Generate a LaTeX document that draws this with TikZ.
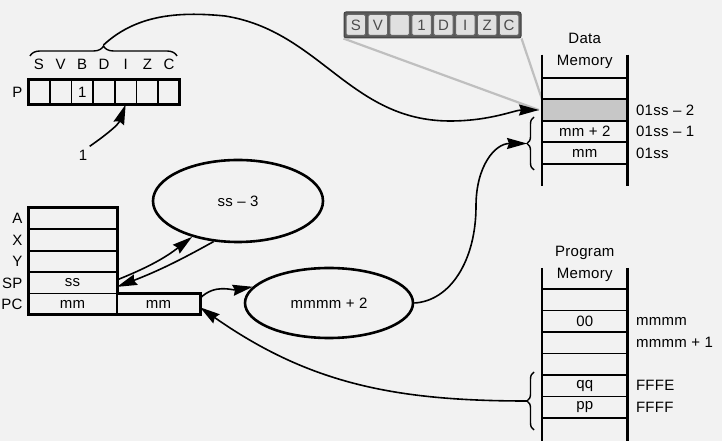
\documentclass[tikz,border=0pt]{standalone}
\usepackage{fontspec}
\setmainfont[LetterSpace=2]{Liberation Sans}
\usetikzlibrary{shapes.geometric, arrows.meta, positioning, calc, decorations.pathreplacing}

\tikzset{
  every node/.style={font=\fontsize{15}{17}\selectfont},
  flagcell/.style={draw, line width=1.8pt, minimum width=21.7pt, minimum height=25pt, inner sep=0pt, outer sep=0pt},
  regcell/.style={draw, line width=1.8pt, minimum width=89pt, minimum height=21.4pt, inner sep=0pt, outer sep=0pt},
  memcell/.style={draw, line width=1.8pt, minimum width=85.5pt, minimum height=21.5pt, inner sep=0pt, outer sep=0pt},
  statcell/.style={draw=black!60, fill=black!12, text=black!70, rounded corners=1.5pt, line width=1pt,
    minimum width=19.5pt, minimum height=21pt, inner sep=0pt},
  rail/.style={line width=2.8pt},
  oval/.style={ellipse, draw, line width=2.6pt, inner sep=0pt},
  ptr/.style={line width=1.6pt, -{Stealth[length=20pt,width=11pt,inset=2pt]}},
  curly/.style={decorate, decoration={brace, amplitude=#1}, line width=1.4pt},
  curly/.default=7pt,
  ghost/.style={line width=2.2pt, black!25},
  header/.style={align=center, font=\fontsize{15}{22}\selectfont},
}

\begin{document}
\begin{tikzpicture}[x=1pt, y=1pt]
  \fill[black!5] (0,0) rectangle (722,441);
  \useasboundingbox (0,0) rectangle (722,441);

  % processor status register
  \foreach \f [count=\i] in {S,V,B,D,I,Z,C} {
    \node[flagcell] (p\i) at ({28+21.7*(\i-0.5)},349) {};
    \node[above=6pt of p\i] (flag\i) {\f};
  }
  \node at (p3) (bset) {1};
  \draw[line width=3pt] (p1.south west) rectangle (p7.north east);
  \node[left=2pt of p1] (preg) {P};
  \draw[curly=10pt] (30,385) -- (177,385);
  \coordinate (fbt) at (103.5,396);

  \node (one) at (83,286) {1};
  \draw[ptr] ([xshift=-1pt]one.north east) to[out=35,in=-110] (p5.south);

  % pushed status byte
  \node[draw=black!75, fill=black!65, rounded corners=2pt, line width=1pt,
    minimum width=177pt, minimum height=26pt] (sbox) at (432.5,416) {};
  \foreach \f [count=\i] in {S,V,{},1,D,I,Z,C}
    \node[statcell] (s\i) at ({345+21.875*(\i-0.5)},416) {\f};

  % data memory (stack page)
  \node[memcell] (d1) at (584.75,352.5) {};
  \node[memcell, fill=black!22, below=0pt of d1] (d2) {};
  \node[memcell, below=0pt of d2] (d3) {mm + 2};
  \node[memcell, below=0pt of d3] (d4) {mm};
  \draw[ghost] (sbox.south west) -- ([xshift=-3pt]d2.west);
  \draw[ghost] (sbox.south east) -- (d2.north west);
  \draw[rail] ([yshift=23pt]d1.north west) -- ([yshift=-22pt]d4.south west);
  \draw[rail] ([yshift=23pt]d1.north east) -- ([yshift=-22pt]d4.south east);
  \node[header] (dhead) at (584.75,390) {Data\\Memory};
  \node[right=5pt of d2] (a2) {01ss – 2};
  \node[right=5pt of d3] (a1) {01ss – 1};
  \node[right=5pt of d4] (a0) {01ss};
  \draw[curly] (534,271) -- (534,324);
  \coordinate (dtip) at (527,297.5);

  % registers
  \node[regcell] (rA) at (72.5,222.3) {};
  \node[regcell, below=0pt of rA] (rX) {};
  \node[regcell, below=0pt of rX] (rY) {};
  \node[regcell, below=0pt of rY] (rSP) {ss};
  \node[regcell, below=0pt of rSP] (pchi) {mm};
  \node[regcell, minimum width=83pt, right=0pt of pchi] (pclo) {mm};
  \draw[line width=3pt] (rA.north west) -- (rA.north east) -- (rSP.south east) -- (pclo.north east)
    -- (pclo.south east) -- (pchi.south west) -- cycle;
  \foreach \r/\t in {rA/A,rX/X,rY/Y,rSP/SP,pchi/PC}
    \node[left=2pt of \r] (lab\r) {\t};

  % address arithmetic
  \node[oval, minimum width=170pt, minimum height=82pt] (ss3) at (238,240) {ss – 3};
  \node[oval, minimum width=168pt, minimum height=70pt] (mm2) at (329,138) {mmmm + 2};

  % program memory
  \node[memcell] (m1) at (584.75,141.25) {};
  \node[memcell, below=0pt of m1] (m2) {00};
  \node[memcell, below=0pt of m2] (m3) {};
  \node[memcell, below=0pt of m3] (m4) {};
  \node[memcell, below=0pt of m4] (m5) {qq};
  \node[memcell, below=0pt of m5] (m6) {pp};
  \draw[rail] ([yshift=21pt]m1.north west) -- ([yshift=-24pt]m6.south west);
  \draw[rail] ([yshift=21pt]m1.north east) -- ([yshift=-24pt]m6.south east);
  \node[header] (phead) at (584.75,177) {Program\\Memory};
  \node[right=5pt of m2] (b0) {mmmm};
  \node[right=5pt of m3] (b1) {mmmm + 1};
  \node[right=5pt of m5] (b2) {FFFE};
  \node[right=5pt of m6] (b3) {FFFF};
  \draw[curly] (534,11) -- (534,69);
  \coordinate (ptip) at (527,40);

  % connectors
  \draw[ptr] (fbt) .. controls (135,425) and (175,430) .. (225,425)
    .. controls (320,410) and (350,320) .. (450,320)
    .. controls (490,320) and (515,331) .. ([xshift=-3pt]d2.west);
  \draw[ptr] ([yshift=3pt]rSP.east) to[bend right=8] (ss3.218);
  \draw[ptr] (ss3.239) to[bend left=4] ([yshift=-4pt]rSP.east);
  \draw[ptr] ([yshift=6pt]pclo.east) to[out=45,in=190] (mm2.168);
  \draw[ptr] (mm2.east) .. controls (450,140) and (476,180) .. (476,235)
    .. controls (476,275) and (495,297.5) .. (dtip);
  \draw[ptr] (ptip) to[out=180,in=-35] ([yshift=-3pt]pclo.east);
\end{tikzpicture}
\end{document}
